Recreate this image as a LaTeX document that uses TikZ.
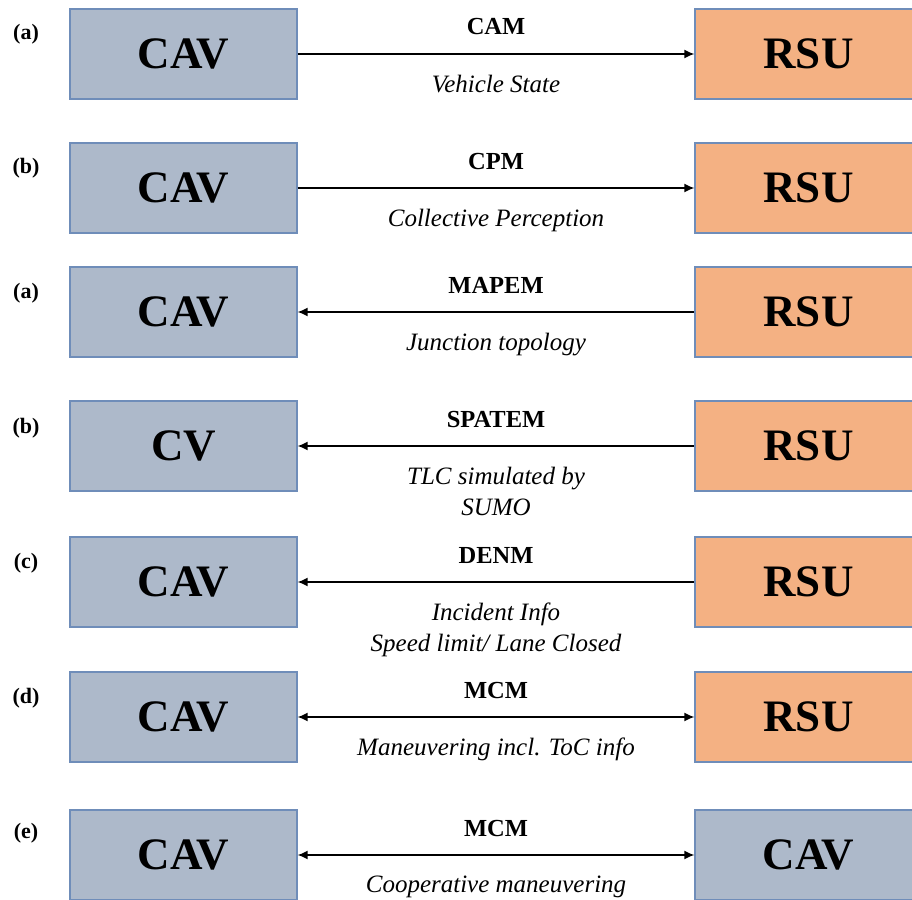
\documentclass[tikz,border=0pt]{standalone}
\usepackage{fontspec}
\setmainfont{Liberation Serif}
\usetikzlibrary{positioning,arrows.meta}

\definecolor{cavfill}{HTML}{ADB9CA}
\definecolor{rsufill}{HTML}{F4B183}
\definecolor{boxline}{HTML}{6F8DB9}

\begin{document}
\begin{tikzpicture}[
    x=1pt, y=-1pt,
    unit/.style={draw=boxline, line width=1.2pt, minimum width=227pt, minimum height=90pt, inner sep=0pt, font=\fontsize{45}{45}\selectfont\bfseries},
    cav/.style={unit, fill=cavfill},
    rsu/.style={unit, fill=rsufill},
    tag/.style={font=\fontsize{22}{22}\selectfont\bfseries},
    msg/.style={font=\fontsize{24.5}{24.5}\selectfont\bfseries, anchor=base, yshift=19pt},
    info/.style={font=\fontsize{25}{31}\selectfont\itshape, align=center, anchor=north, yshift=-17pt},
    link/.style={line width=1.6pt, -{Latex[length=10pt,width=9pt]}},
    back/.style={line width=1.6pt, {Latex[length=10pt,width=9pt]}-},
    both/.style={line width=1.6pt, {Latex[length=10pt,width=9pt]}-{Latex[length=10pt,width=9pt]}}
]
\useasboundingbox (0,0) rectangle (912,899);

% (a) CAM
\node[tag] (ta) at (26,34) {(a)};
\node[cav] (cav1) at (183.5,54) {CAV};
\node[rsu] (rsu1) at (808.5,54) {RSU};
\draw[link] (cav1) -- (rsu1) node[midway, msg] (m1) {CAM} node[midway, info] (i1) {Vehicle State};

% (b) CPM
\node[tag] (tb) at (26,168) {(b)};
\node[cav] (cav2) at (183.5,188) {CAV};
\node[rsu] (rsu2) at (808.5,188) {RSU};
\draw[link] (cav2) -- (rsu2) node[midway, msg] (m2) {CPM} node[midway, info] (i2) {Collective Perception};

% (a) MAPEM
\node[tag] (tc) at (26,293) {(a)};
\node[cav] (cav3) at (183.5,312) {CAV};
\node[rsu] (rsu3) at (808.5,312) {RSU};
\draw[back] (cav3) -- (rsu3) node[midway, msg] (m3) {MAPEM} node[midway, info] (i3) {Junction topology};

% (b) SPATEM
\node[tag] (td) at (26,428) {(b)};
\node[cav] (cav4) at (183.5,446) {CV};
\node[rsu] (rsu4) at (808.5,446) {RSU};
\draw[back] (cav4) -- (rsu4) node[midway, msg] (m4) {SPATEM} node[midway, info] (i4) {TLC simulated by\\SUMO};

% (c) DENM
\node[tag] (te) at (26,563) {(c)};
\node[cav] (cav5) at (183.5,582) {CAV};
\node[rsu] (rsu5) at (808.5,582) {RSU};
\draw[back] (cav5) -- (rsu5) node[midway, msg] (m5) {DENM} node[midway, info] (i5) {Incident Info\\Speed limit/ Lane Closed};

% (d) MCM
\node[tag] (tf) at (26,698) {(d)};
\node[cav] (cav6) at (183.5,717) {CAV};
\node[rsu] (rsu6) at (808.5,717) {RSU};
\draw[both] (cav6) -- (rsu6) node[midway, msg] (m6) {MCM} node[midway, info] (i6) {Maneuvering incl. ToC info};

% (e) MCM
\node[tag] (tg) at (26,833) {(e)};
\node[cav] (cav7) at (183.5,855) {CAV};
\node[cav] (cav8) at (808.5,855) {CAV};
\draw[both] (cav7) -- (cav8) node[midway, msg] (m7) {MCM} node[midway, info] (i7) {Cooperative maneuvering};

\end{tikzpicture}
\end{document}
